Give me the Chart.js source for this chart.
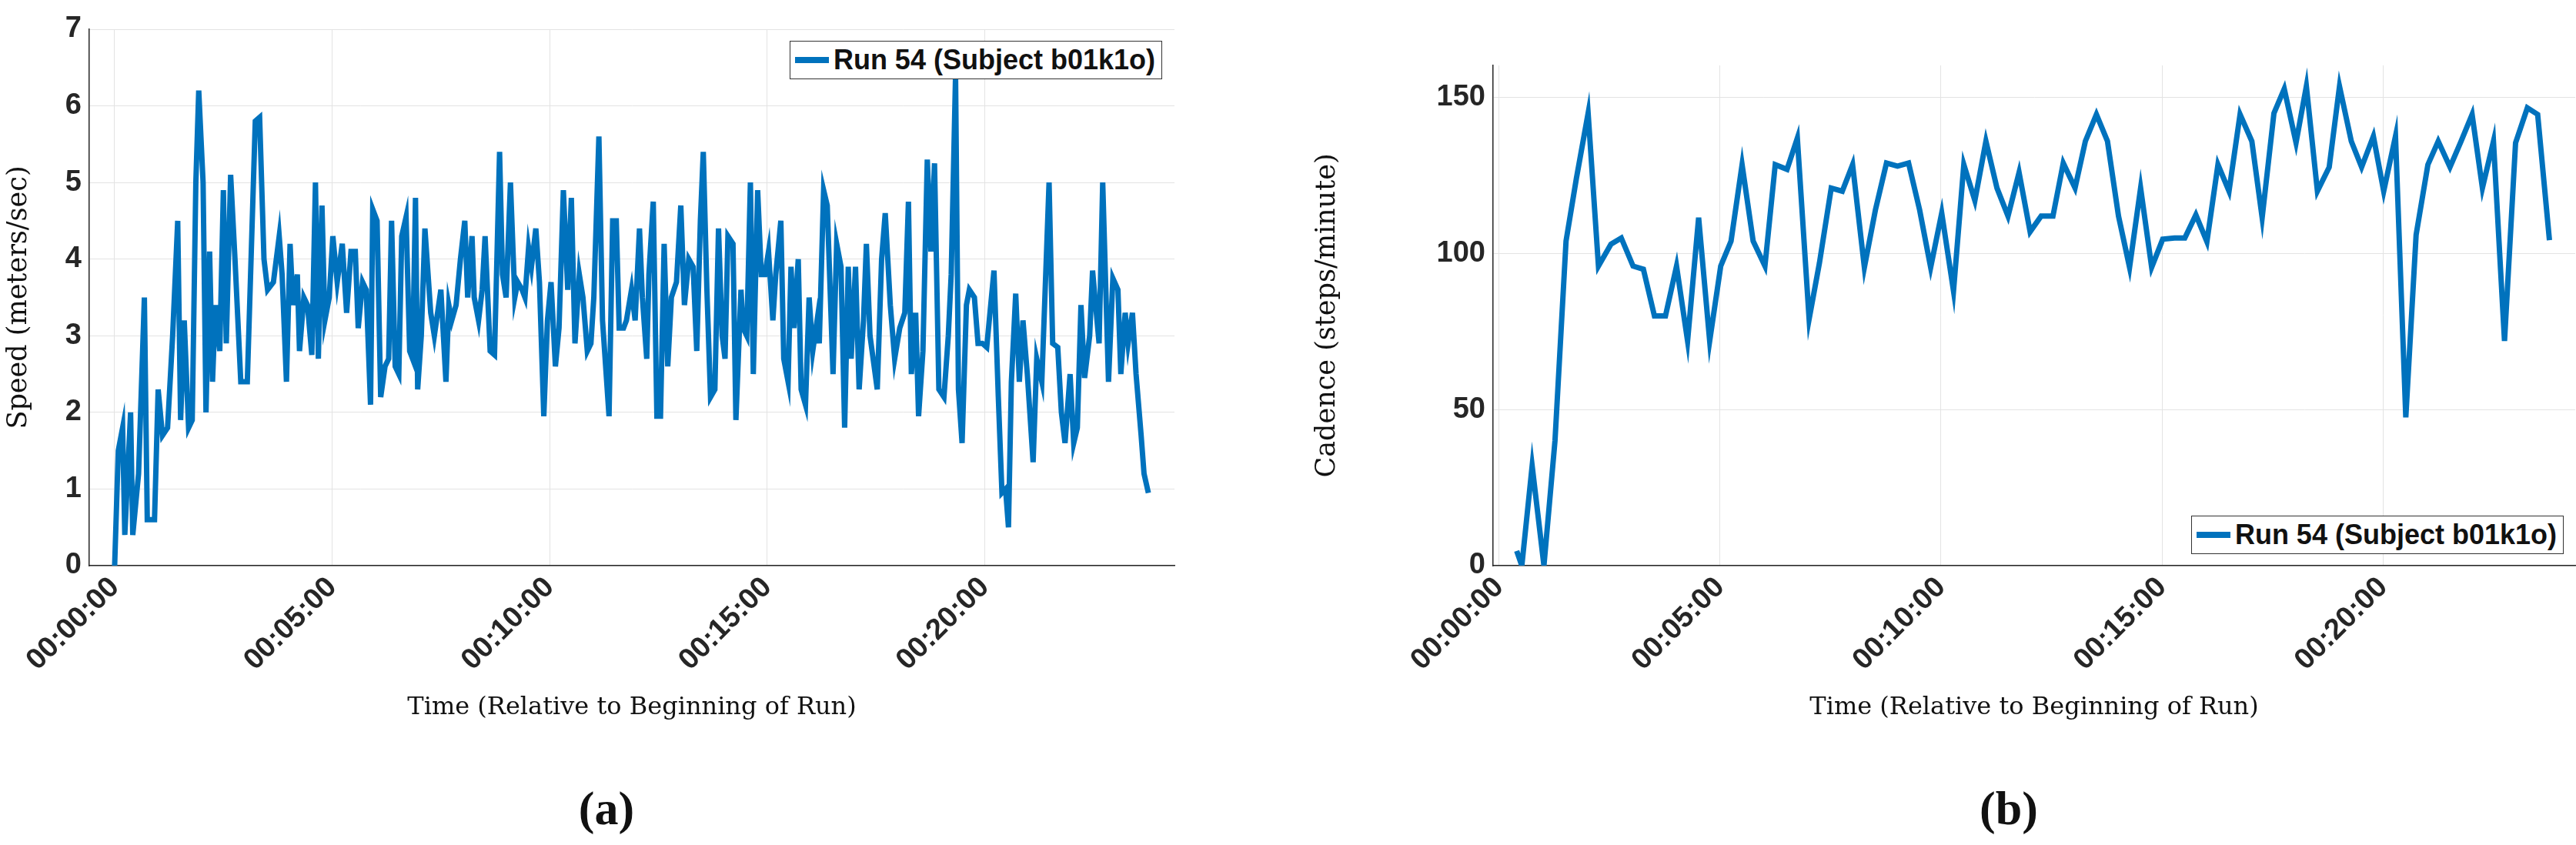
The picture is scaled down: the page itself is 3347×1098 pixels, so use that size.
<!DOCTYPE html>
<html>
<head>
<meta charset="utf-8">
<script src="https://cdn.jsdelivr.net/npm/chart.js@4.4.1/dist/chart.umd.min.js"></script>
<style>
  body { margin: 0; background: #fff; width: 3347px; height: 1098px; position: relative; overflow: hidden; }
  canvas { position: absolute; }
  .legend { position: absolute; background: #fff; border: 1.5px solid #333; font: bold 36px "Liberation Sans", sans-serif;
            color: #111; height: 50px; padding: 0 8px 0 6px; display: flex; align-items: center; white-space: nowrap; box-sizing: border-box; }
  .legend span.sw { display: inline-block; width: 44px; height: 8px; background: #0072BD; margin-right: 6px; }
  .cap { position: absolute; font: bold 62px "Liberation Serif", serif; color: #111; transform: translate(-50%, -50%); }
</style>
</head>
<body>
<canvas id="speedChart"></canvas>
<canvas id="cadenceChart"></canvas>
<div class="legend" style="right:1837px; top:53px;"><span class="sw"></span>Run 54 (Subject b01k1o)</div>
<div class="legend" style="right:16px; top:670px;"><span class="sw"></span>Run 54 (Subject b01k1o)</div>
<div class="cap" style="left:788px; top:1050px;">(a)</div>
<div class="cap" style="left:2610px; top:1050px;">(b)</div>
<script>
// seconds from start
var speedTime = [0,5,11,14,22,25,33,41,45,55,60,66,73,80,87,91,96,102,107,112,116,122,126,131,135,139,145,150,154,160,166,174,183,194,200,206,211,219,227,231,237,242,246,252,255,261,266,272,277,281,286,290,296,301,307,314,320,326,332,336,342,347,353,356,362,367,373,378,382,387,392,396,402,407,411,415,418,423,428,436,441,450,457,461,465,471,477,483,487,493,496,502,507,511,518,524,531,535,540,546,552,556,562,566,571,575,581,586,592,597,602,608,613,619,625,630,635,641,646,652,657,661,668,673,682,687,692,696,702,706,713,718,724,728,734,737,743,748,753,758,763,768,775,781,786,792,798,803,808,812,817,822,828,833,838,842,846,853,857,864,867,872,877,881,887,892,897,902,908,912,919,923,929,933,937,943,947,953,958,963,969,972,978,983,991,996,1002,1007,1012,1016,1022,1027,1033,1037,1042,1052,1058,1063,1070,1076,1083,1090,1095,1099,1105,1109,1115,1121,1126,1131,1137,1144,1150,1154,1160,1164,1169,1175,1179,1186,1191,1197,1203,1213,1219,1224,1229,1233,1237,1243,1248,1253,1259,1267,1272,1279,1289,1294,1301,1306,1311,1318,1323,1328,1333,1338,1345,1349,1358,1363,1371,1377,1384,1388,1394,1398,1404,1409,1416,1420,1426];
// meters/sec
var speedValues = [0,1.5,1.8,0.4,2.0,0.4,1.2,3.5,0.6,0.6,2.3,1.7,1.8,3.0,4.5,1.9,3.2,1.8,1.9,5.0,6.2,5.0,2.0,4.1,2.4,3.4,2.8,4.9,2.9,5.1,4.0,2.4,2.4,5.8,5.85,4.0,3.6,3.7,4.3,3.8,2.4,4.2,3.4,3.8,2.8,3.5,3.4,2.75,5.0,2.7,4.7,3.2,3.5,4.3,3.7,4.2,3.3,4.1,4.1,3.1,3.7,3.6,2.1,4.65,4.5,2.2,2.6,2.7,4.5,2.6,2.5,4.3,4.55,2.8,2.7,4.8,2.3,3.0,4.4,3.3,3.0,3.6,2.4,3.4,3.2,3.4,4.0,4.5,3.5,4.3,3.5,3.2,3.6,4.3,2.8,2.75,5.4,3.8,3.5,5.0,3.5,3.7,3.6,3.5,4.15,3.9,4.4,3.7,1.95,3.2,3.7,2.6,3.1,4.9,3.6,4.8,2.9,3.8,3.5,2.8,2.9,3.5,5.6,3.2,1.95,4.5,4.5,3.1,3.1,3.2,3.6,3.2,4.4,3.5,2.7,3.8,4.75,1.95,1.95,4.2,2.6,3.5,3.7,4.7,3.4,4.0,3.9,2.8,4.5,5.4,3.6,2.2,2.3,4.4,3.0,2.7,4.3,4.2,1.9,3.6,3.1,3.0,5.0,2.5,4.9,3.8,3.8,4.1,3.2,3.8,4.5,2.7,2.4,3.9,3.1,4.0,2.3,2.1,3.5,2.8,3.2,2.9,4.9,4.7,2.5,4.2,3.9,1.8,3.9,2.7,3.9,2.3,3.2,4.2,3.0,2.3,4.0,4.6,3.4,2.7,3.1,3.3,4.75,2.5,3.3,1.95,2.8,5.3,4.1,5.25,2.3,2.2,3.0,3.8,6.4,2.3,1.6,3.4,3.6,3.5,2.9,2.9,2.85,3.85,2.2,0.95,1.0,0.5,2.4,3.55,2.4,3.2,2.5,1.35,2.7,2.4,5.0,2.9,2.85,2.0,1.6,2.5,1.6,1.8,3.4,2.45,3.0,3.85,2.9,5.0,2.4,3.75,3.6,2.5,3.3,2.9,3.3,2.5,1.7,1.2,0.95];

var cadenceTime = [24,31,45,61,76,91,105,121,135,152,166,182,196,211,226,241,256,271,286,301,315,330,345,361,375,391,405,421,435,451,466,480,496,511,526,541,556,571,586,601,617,631,646,661,676,691,706,721,736,752,766,782,796,811,826,841,856,871,886,901,917,931,946,961,976,991,1006,1022,1036,1052,1066,1082,1096,1111,1127,1141,1157,1171,1187,1201,1217,1231,1245,1261,1275,1291,1306,1321,1335,1350,1365,1380,1396,1410,1426];
// steps/minute
var cadenceValues = [4.7,0,32,0,40,104,124,145,96,103,105,96,95,80,80,96,72,111.5,72,96,104,128.5,104,96,128.5,127,137,79,97,121,120,128.5,95.6,114,129,128,129,114,95.6,113,88,128.5,117,136,121,112,126,107,112,112,129,121,136,144.6,136,112,95.6,121,95.6,104.6,105,105,112.4,103.8,128.5,120,144.6,136,111.5,145,152.8,135.5,153.6,120,127.7,153.6,136,127.7,137.6,120,137.6,47.5,106,128.5,136,127.7,136,144.6,121,136,72,135.5,146.7,144.6,104.3];

var timeTicks = [0, 300, 600, 900, 1200];
var speedTicks = [0, 1, 2, 3, 4, 5, 6, 7];
var cadenceTicks = [0, 50, 100, 150];

function fmt(s) {
  var m = Math.floor(s / 60);
  return "00:" + (m < 10 ? "0" : "") + m + ":00";
}
function pts(t, v) { return t.map(function (x, i) { return { x: x, y: v[i] }; }); }

var tickFont = { family: "'Liberation Sans', sans-serif", size: 38, weight: "bold" };
var titleFont = { family: "'DejaVu Serif', serif", size: 32 };
var gridCol = "#e3e3e3";

function makeChart(id, box, t, v, yMin, yMax, yTicks, yLabel, xMin, xMax, yAxisW) {
  var c = document.getElementById(id);
  c.style.left = box.left + "px"; c.style.top = "0px";
  c.width = box.width; c.height = box.height;
  c.style.width = box.width + "px"; c.style.height = box.height + "px";
  return new Chart(c, {
    type: "line",
    data: { datasets: [{ data: pts(t, v), borderColor: "#0072BD", borderWidth: 7, pointRadius: 0, tension: 0, fill: false }] },
    options: {
      responsive: false, animation: false,
      layout: { padding: { top: box.top, right: box.right } },
      plugins: { legend: { display: false }, tooltip: { enabled: false } },
      scales: {
        x: {
          type: "linear", min: xMin, max: xMax,
          afterBuildTicks: function (ax) { ax.ticks = timeTicks.map(function (s) { return { value: s }; }); },
          afterFit: function (ax) { ax.height = 218; },
          ticks: { callback: fmt, font: tickFont, color: "#262626", minRotation: 45, maxRotation: 45, padding: 6 },
          grid: { color: gridCol, tickLength: 0 },
          border: { color: "#262626", width: 1.5 },
          title: { display: true, text: "Time (Relative to Beginning of Run)", font: titleFont, color: "#111", padding: { top: 0, bottom: 14 } }
        },
        y: {
          min: yMin, max: yMax,
          afterBuildTicks: function (ax) { ax.ticks = yTicks.map(function (s) { return { value: s }; }); },
          afterFit: function (ax) { ax.width = yAxisW; },
          ticks: { font: tickFont, color: "#262626", padding: 10 },
          grid: { color: gridCol, tickLength: 0 },
          border: { color: "#262626", width: 1.5 },
          title: { display: true, text: yLabel, font: { family: "'DejaVu Serif', serif", size: 35 }, color: "#111", padding: 4 }
        }
      }
    }
  });
}

makeChart("speedChart", { left: 0, width: 1530, height: 953, top: 38, right: 4 }, speedTime, speedValues,
  0, 7, speedTicks, "Speed (meters/sec)", -35, 1462, 116);
makeChart("cadenceChart", { left: 1700, width: 1647, height: 953, top: 85, right: 1 }, cadenceTime, cadenceValues,
  0, 160.3, cadenceTicks, "Cadence (steps/minute)", -8, 1461, 240);
</script>
</body>
</html>
